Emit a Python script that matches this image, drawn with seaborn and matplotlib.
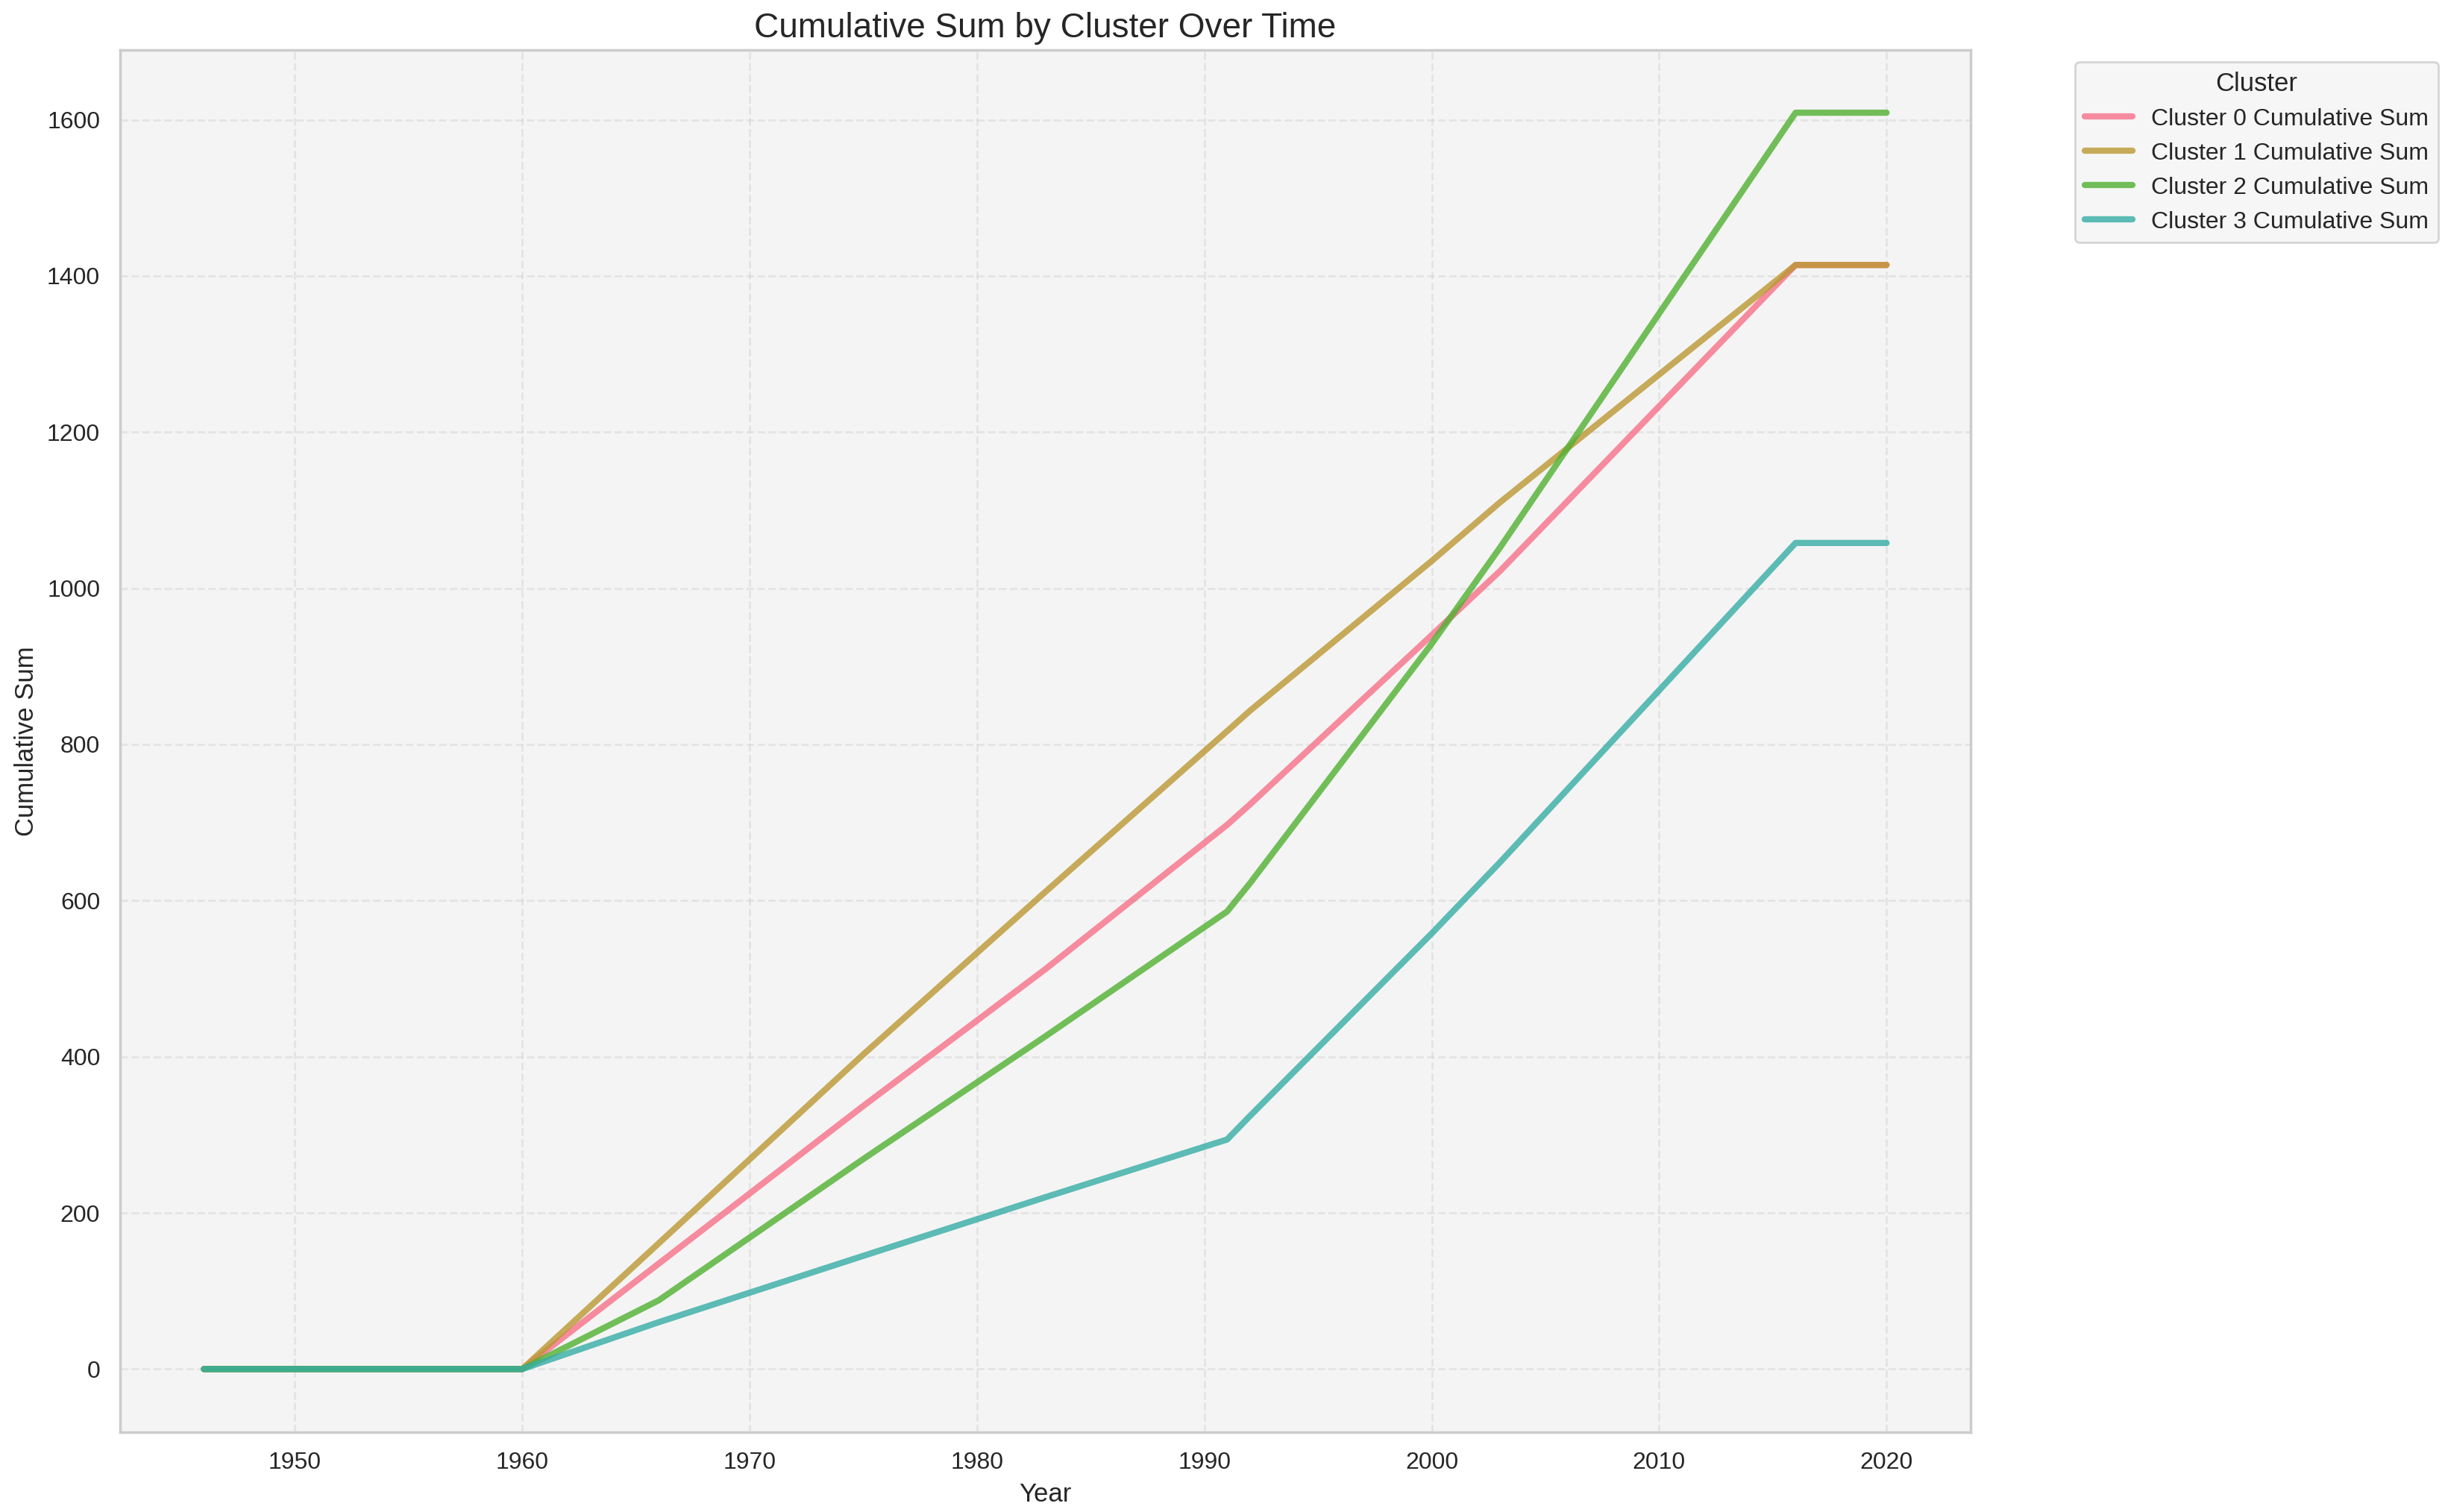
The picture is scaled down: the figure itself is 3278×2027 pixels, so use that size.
import numpy as np
import pandas as pd
import seaborn as sns
import matplotlib
matplotlib.use("Agg")
import matplotlib.pyplot as plt

# years where the cumulative curves bend
years = [1946, 1960, 1966, 1975, 1983, 1991, 1992, 2000, 2003, 2016, 2020]

cluster_0 = [0, 0, 135, 337, 512, 697, 723, 940, 1022, 1414, 1414]
cluster_1 = [0, 0, 161, 403, 611, 817, 843, 1035, 1110, 1414, 1414]
cluster_2 = [0, 0, 88, 269, 426, 586, 622, 929, 1052, 1609, 1609]
cluster_3 = [0, 0, 60, 145, 220, 294, 324, 558, 649, 1058, 1058]

series = [cluster_0, cluster_1, cluster_2, cluster_3]
labels = [f"Cluster {i} Cumulative Sum" for i in range(4)]

sns.set_theme(style="whitegrid", rc={"axes.facecolor": "#f4f4f4"})
plt.rcParams['font.family'] = ['Liberation Sans', 'DejaVu Sans']

colores = sns.color_palette("husl", 6)[:4]

fig, ax = plt.subplots(figsize=(16.39, 10.135), dpi=200)

for vals, lab, col in zip(series, labels, colores):
    df = pd.DataFrame({'Year': years, 'Cumulative Sum': vals})
    sns.lineplot(data=df, x='Year', y='Cumulative Sum', ax=ax, label=lab,
                 color=col, linewidth=3, alpha=0.8)

ax.grid(True, linestyle='--', alpha=0.4)
ax.tick_params(labelsize=11.5)
ax.set_title("Cumulative Sum by Cluster Over Time", fontsize=16.5)
ax.set_xlabel("Year", fontsize=12.5)
ax.set_ylabel("Cumulative Sum", fontsize=12.5)
ax.legend(title="Cluster", bbox_to_anchor=(1.05, 1), loc='upper left',
          fontsize=11.5, title_fontsize=12.5)

plt.subplots_adjust(left=0.049, right=0.806, top=0.967, bottom=0.053)
plt.savefig("out.png", dpi=200)
